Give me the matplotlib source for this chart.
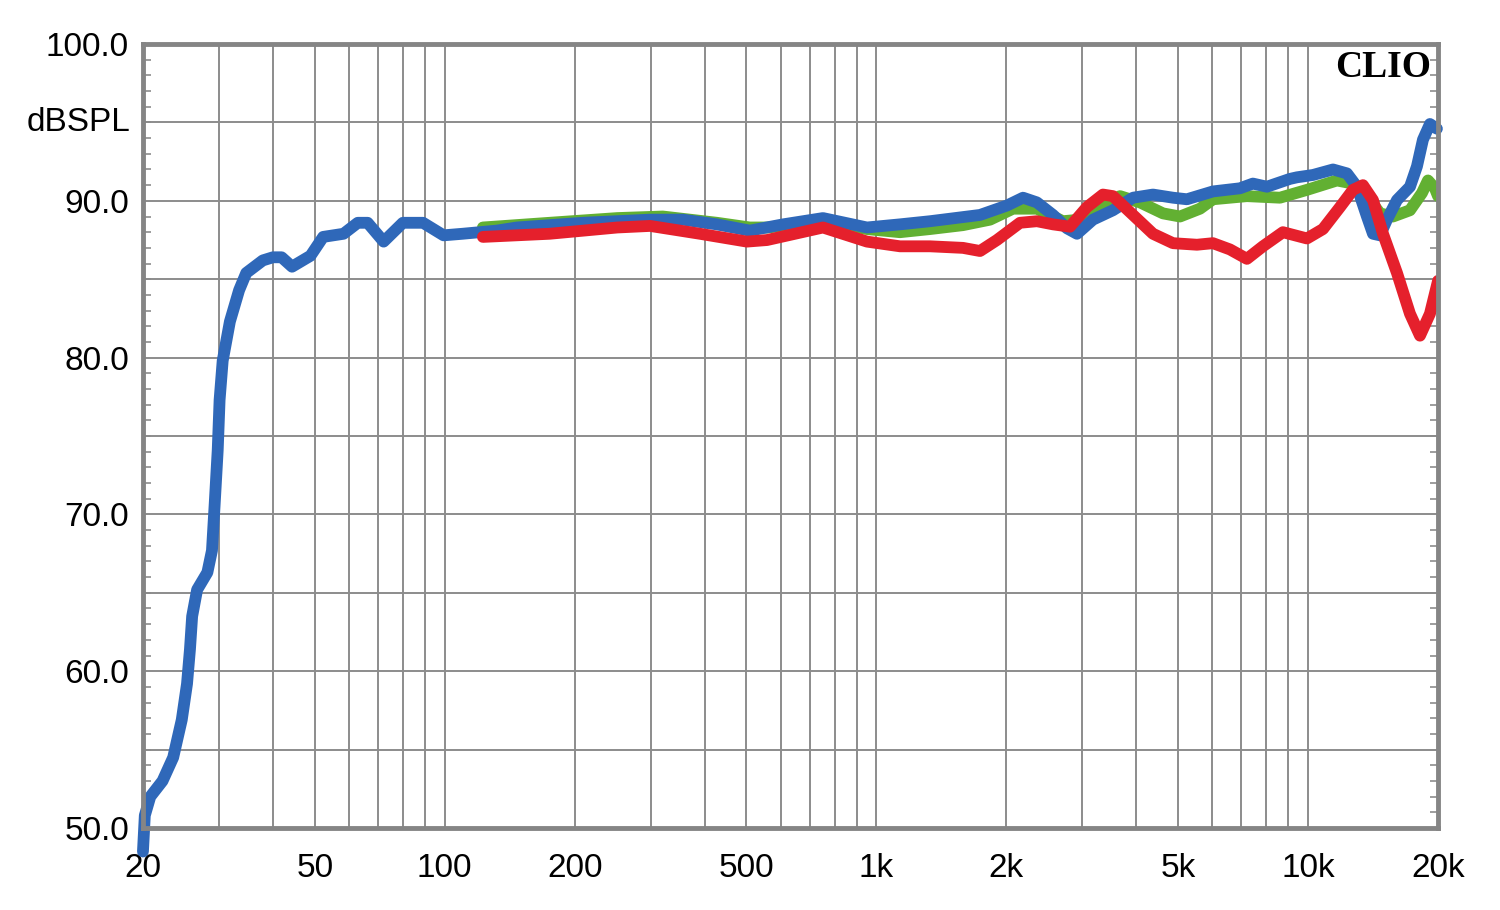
import matplotlib
matplotlib.use("Agg")
import matplotlib.pyplot as plt
from matplotlib.ticker import FixedLocator, NullFormatter, MultipleLocator

# frequency response readings (Hz, dBSPL)
blue_f = [20.0, 20.2, 20.8, 22.2, 23.5, 24.6, 25.3, 25.7, 26.0, 26.7, 28.2, 28.9, 29.3,
          29.8, 30.1, 30.6, 31.8, 33.4, 34.7, 37.9, 40.0, 41.9, 44.3, 48.9, 52.3, 58.3,
          62.9, 66.3, 72.2, 80.0, 89.1, 99.4, 110, 132, 147, 209, 299, 356, 427, 509,
          608, 752, 951, 1134, 1331, 1738, 2006, 2186, 2354, 2565, 2763, 2915, 3174,
          3532, 3930, 4372, 4864, 5240, 6020, 6952, 7450, 8030, 9076, 9422, 10264,
          11420, 12304, 12978, 13688, 14134, 14672, 15230, 16066, 17218, 17872, 18452,
          19154, 19880]
blue_db = [48.5, 50.8, 52.0, 53.0, 54.5, 56.9, 59.2, 61.4, 63.5, 65.2, 66.3, 67.7, 70.5,
           74.1, 77.3, 79.8, 82.3, 84.3, 85.4, 86.2, 86.4, 86.4, 85.8, 86.5, 87.7, 87.9,
           88.6, 88.6, 87.4, 88.6, 88.6, 87.8, 87.9, 88.1, 88.3, 88.6, 88.8, 88.8, 88.5,
           88.1, 88.5, 88.9, 88.3, 88.5, 88.7, 89.1, 89.7, 90.2, 89.9, 89.1, 88.25, 87.9,
           88.8, 89.4, 90.2, 90.4, 90.2, 90.1, 90.6, 90.8, 91.1, 90.9, 91.4, 91.5, 91.65,
           92.0, 91.75, 90.9, 89.0, 87.9, 87.8, 88.8, 90.05, 90.9, 92.2, 93.9, 94.9, 94.6]

green_f = [122.6, 175, 251, 320, 427, 509, 558, 608, 752, 951, 1134, 1331, 1587, 1833,
           2072, 2354, 2704, 2962, 3243, 3667, 4080, 4612, 5050, 5618, 6020, 7216, 8606,
           9940, 11666, 12704, 13688, 14672, 15726, 17218, 18356, 18952, 19670, 20000]
green_db = [88.3, 88.6, 88.9, 89.0, 88.6, 88.3, 88.3, 88.4, 88.7, 88.2, 88.0, 88.2, 88.45,
            88.8, 89.5, 89.5, 88.7, 88.8, 89.6, 90.3, 89.9, 89.2, 89.0, 89.5, 90.1, 90.3,
            90.2, 90.7, 91.3, 91.1, 90.3, 89.2, 89.0, 89.4, 90.5, 91.3, 90.8, 90.3]

red_f = [122.6, 175, 251, 299, 390, 501, 558, 752, 951, 1134, 1331, 1587, 1738, 1902,
         2151, 2354, 2565, 2808, 3074, 3348, 3532, 3930, 4372, 4864, 5528, 6020, 6592,
         7216, 7860, 8744, 9940, 10826, 11854, 12704, 13398, 14134, 14910, 16066, 17218,
         18162, 19154, 20000]
red_db = [87.7, 87.9, 88.3, 88.4, 87.9, 87.4, 87.5, 88.3, 87.4, 87.1, 87.1, 87.0, 86.8,
          87.5, 88.6, 88.7, 88.5, 88.35, 89.6, 90.4, 90.3, 89.1, 87.9, 87.3, 87.2, 87.3,
          86.9, 86.3, 87.1, 88.0, 87.6, 88.2, 89.6, 90.7, 91.0, 90.05, 87.9, 85.4, 82.8,
          81.4, 82.8, 84.9]

x_ticks = [20, 50, 100, 200, 500, 1000, 2000, 5000, 10000, 20000]
x_labels = ["20", "50", "100", "200", "500", "1k", "2k", "5k", "10k", "20k"]
y_ticks = [50, 60, 70, 80, 90, 100]
y_labels = ["50.0", "60.0", "70.0", "80.0", "90.0", "100.0"]

plt.rcParams["font.family"] = ["Liberation Sans", "DejaVu Sans"]

fig = plt.figure(figsize=(15, 9.1), dpi=100)
ax = fig.add_axes([0.0953, 0.0901, 0.8634, 0.8615])

ax.set_xscale("log")
ax.set_xlim(20, 20000)
ax.set_ylim(50, 100)

# grid: every 1..9 multiple on x, every 5 dB on y
grid_x = [m * 10 ** e for e in range(1, 5) for m in range(1, 10) if 20 <= m * 10 ** e <= 20000]
for gx in grid_x:
    ax.axvline(gx, color="#8c8c8c", lw=1.4, zorder=1)
for gy in range(55, 100, 5):
    ax.axhline(gy, color="#8c8c8c", lw=1.4, zorder=1)

lw = 8.5
ax.plot(green_f, green_db, color="#62b032", lw=lw, solid_capstyle="round",
        solid_joinstyle="round", zorder=3)
ax.plot(blue_f, blue_db, color="#2f68b9", lw=lw, solid_capstyle="round",
        solid_joinstyle="round", zorder=4, clip_on=False)
ax.plot(red_f, red_db, color="#e5202c", lw=lw, solid_capstyle="round",
        solid_joinstyle="round", zorder=5)

ax.xaxis.set_major_locator(FixedLocator(x_ticks))
ax.set_xticklabels(x_labels)
ax.xaxis.set_minor_formatter(NullFormatter())
ax.tick_params(axis="x", which="both", length=0, labelsize=24, pad=18, colors="black")

ax.set_yticks(y_ticks)
ax.set_yticklabels(y_labels)
ax.yaxis.set_minor_locator(MultipleLocator(1))
ax.tick_params(axis="y", which="major", length=0, labelsize=24, pad=10)
ax.tick_params(axis="y", which="minor", direction="in", length=6, width=1.2,
               color="#8c8c8c", left=True, right=True)

for s in ax.spines.values():
    s.set_color("#858585")
    s.set_linewidth(3.5)
    s.set_zorder(6)

ax.text(-0.01, 95, "dBSPL", transform=ax.get_yaxis_transform(), ha="right", va="center",
        fontsize=24)
ax.text(0.995, 0.993, "CLIO", transform=ax.transAxes, ha="right", va="top",
        fontsize=27, fontweight="bold", family="Liberation Serif")

fig.savefig("out.png", dpi=100)
